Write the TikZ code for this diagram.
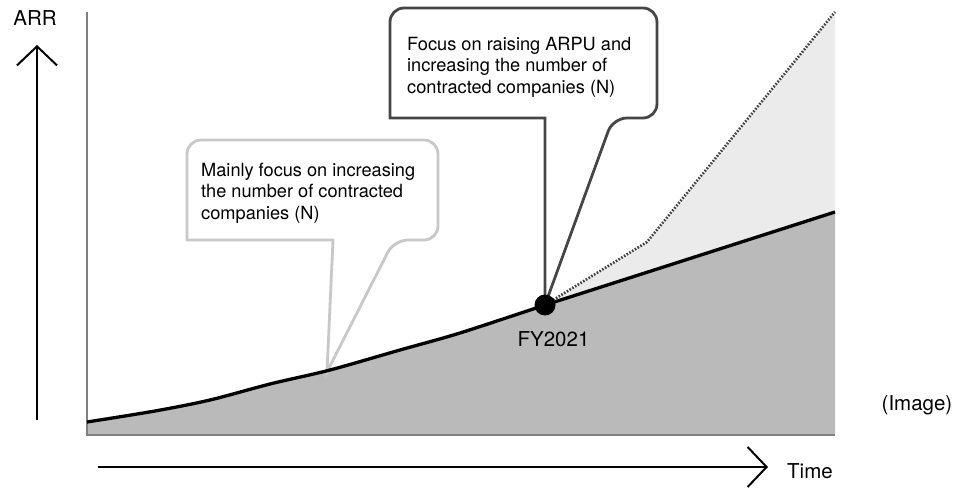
\documentclass[tikz,border=0pt]{standalone}
\usepackage{fontspec}
\setmainfont{TeX Gyre Heros}
\usepackage{tikz}
\usetikzlibrary{arrows.meta}
\usetikzlibrary{positioning}

\definecolor{areadark}{RGB}{186,186,186}
\definecolor{arealight}{RGB}{235,235,235}
\definecolor{calloutgray}{RGB}{200,200,200}
\definecolor{calloutdark}{RGB}{70,70,70}

\tikzset{
    axisarrow/.style={line width=2pt,-{Straight Barb[length=19pt,width=40pt,line width=2pt]}},
    bubbletext/.style={anchor=north west,align=left,inner sep=0pt,font=\fontsize{18.2}{21.3}\selectfont},
    plainlabel/.style={inner sep=0pt,font=\fontsize{20.5}{24}\selectfont},
}

\begin{document}
\begin{tikzpicture}[x=1pt,y=-1pt]
    \useasboundingbox (0,0) rectangle (954,492);

    % axes
    \coordinate (ybot) at (37,420);
    \coordinate (ytop) at (37,45);
    \draw[axisarrow] (ybot) -- (ytop);
    \node[plainlabel] (arr) at (35,18.5) {ARR};

    \coordinate (xleft) at (98,467);
    \coordinate (xright) at (768,467);
    \draw[axisarrow] (xleft) -- (xright);
    \node[plainlabel,anchor=west] (time) at (787,471) {Time};
    \node[plainlabel] (image) at (917,405) {(Image)};

    % areas
    \coordinate (fy) at (545,305);
    \fill[arealight] (fy) -- (647,242) -- (835,12) -- (835,212) -- cycle;
    \fill[areadark] (87,435) -- plot[smooth,tension=0.5] coordinates {(87,422) (155,411) (210,400) (270,384) (330,370) (400,350) (460,333) (545,305)} -- (835,212) -- (835,435) -- cycle;

    % frame
    \draw[gray,line width=1.5pt] (87,12) -- (87,435) -- (835,435);

    % callouts
    \coordinate (tipN) at (327,372);
    \draw[calloutgray,line width=2.8pt,fill=white] (tipN) -- (333,240) -- (187,240) [rounded corners=14pt] -- (187,140) -- (438,140) -- (438,240) -- (394,240) [sharp corners] -- cycle;
    \node[bubbletext] (focusN) at (201,163) {Mainly focus on increasing\\the number of contracted\\companies (N)};

    \draw[calloutdark,line width=2.8pt,fill=white] (fy) -- (545,118) -- (390,118) [rounded corners=14pt] -- (390,8) -- (657,8) -- (657,118) -- (613,118) [sharp corners] -- cycle;
    \node[bubbletext] (focusARPU) at (407,37) {Focus on raising ARPU and\\increasing the number of\\contracted companies (N)};

    % lines
    \draw[line width=3.3pt] plot[smooth,tension=0.5] coordinates {(87,422) (155,411) (210,400) (270,384) (330,370) (400,350) (460,333) (545,305)} -- (835,212);
    \draw[black!75,line width=2.6pt,dash pattern=on 1.6pt off 1.6pt] (fy) -- (647,242) -- (835,12);

    \node[circle,fill=black,inner sep=0pt,minimum size=21pt] (fydot) at (fy) {};
    \node[plainlabel] (fylabel) at (553.5,339.5) {FY2021};
\end{tikzpicture}
\end{document}
